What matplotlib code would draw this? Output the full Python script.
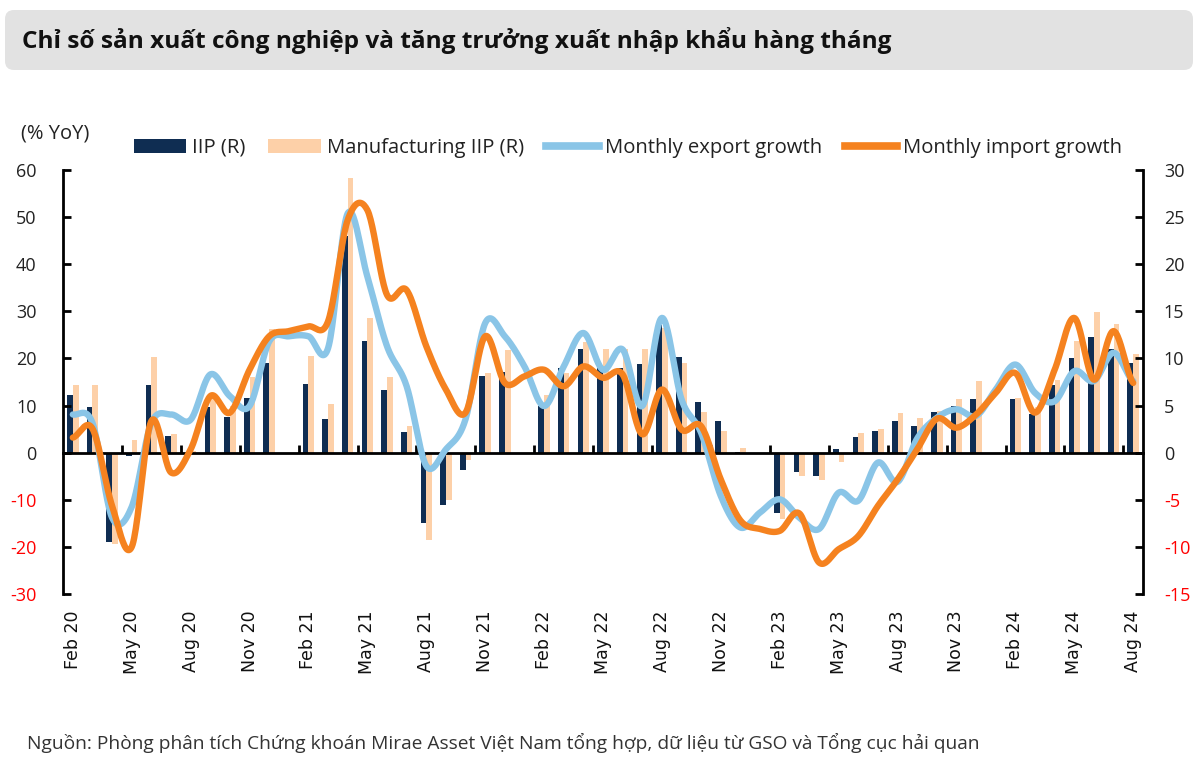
import numpy as np
import pandas as pd
import matplotlib
matplotlib.use("Agg")
import matplotlib.pyplot as plt
from matplotlib.patches import FancyBboxPatch, Patch
from matplotlib.lines import Line2D

plt.rcParams['font.family'] = ['Open Sans', 'DejaVu Sans']
plt.rcParams['axes.unicode_minus'] = False

# ---------------- data ----------------
months = pd.date_range('2020-02-01', periods=55, freq='MS')
month_labels = [d.strftime('%b %y') for d in months]

nan = np.nan
# IIP and manufacturing IIP (% YoY, right axis); January months not reported
iip = [6.1, 4.8, -9.5, -0.4, 7.2, 1.8, -0.3, 4.8, 3.8, 5.8, 9.5, nan,
       7.3, 3.6, 23.0, 11.8, 6.7, 2.2, -7.5, -5.6, -1.8, 8.1, 8.6, nan,
       4.9, 9.0, 11.0, 9.0, 9.0, 9.4, 13.5, 10.2, 5.4, 3.4, 0.1, nan,
       -6.4, -2.1, -2.5, 0.4, 1.7, 2.3, 3.4, 2.8, 4.3, 4.9, 5.7, nan,
       5.7, 4.1, 7.2, 10.0, 12.3, 11.0, 9.5]
mfg_iip = [7.2, 7.2, -9.7, 1.3, 10.2, 2.0, 0.2, 6.0, 5.0, 8.0, 13.1, nan,
           10.3, 5.2, 29.1, 14.3, 8.0, 2.8, -9.3, -5.0, -0.8, 8.5, 10.9, nan,
           6.1, 8.5, 11.7, 11.0, 11.0, 11.0, 13.2, 9.5, 4.3, 2.3, 0.5, nan,
           -7.0, -2.5, -2.9, -1.0, 2.1, 2.5, 4.2, 3.7, 4.4, 5.7, 7.6, nan,
           5.8, 4.8, 7.7, 11.8, 14.9, 13.7, 10.5]
# Monthly export / import growth (% YoY, left axis)
export_growth = [8.1, 6.3, -13.8, -11.5, 6.3, 8.1, 7.0, 16.6, 12.0, 9.9, 23.6, 24.7,
                 24.7, 22.2, 50.8, 37.4, 22.6, 14.1, -2.8, 0.7, 7.1, 27.5, 24.7, 18.3,
                 9.9, 18.3, 25.4, 17.6, 21.9, 9.9, 28.6, 11.3, 4.2, -9.2, -15.9, -12.7,
                 -9.9, -13.8, -16.2, -8.5, -10.2, -2.1, -6.2, 3.0, 7.4, 9.2, 7.8, 13.4,
                 18.7, 12.7, 10.9, 17.3, 15.2, 21.2, 15.2]
import_growth = [3.2, 5.1, -11.3, -20.0, 6.7, -4.2, 0.7, 12.0, 8.5, 17.6, 24.7, 25.8,
                 26.8, 27.9, 49.4, 51.5, 33.5, 34.5, 22.6, 13.4, 8.5, 24.7, 14.8, 16.2,
                 17.6, 14.1, 18.3, 15.9, 16.6, 3.9, 13.4, 4.9, 5.6, -5.7, -14.4, -16.2,
                 -16.6, -12.9, -23.3, -20.5, -17.7, -11.3, -5.7, 0.7, 7.2, 5.3, 8.1, 12.7,
                 16.9, 8.5, 17.6, 28.6, 15.5, 25.8, 14.8]

title = "Chỉ số sản xuất công nghiệp và tăng trưởng xuất nhập khẩu hàng tháng"
source = "Nguồn: Phòng phân tích Chứng khoán Mirae Asset Việt Nam tổng hợp, dữ liệu từ GSO và Tổng cục hải quan"
legend_labels = ["IIP (R)", "Manufacturing IIP (R)", "Monthly export growth", "Monthly import growth"]

NAVY = "#0f2d52"
PEACH = "#fdd0a8"
BLUE = "#8ac5e7"
ORANGE = "#f5821f"
RED = "#ff0000"


def smooth(y, n=24):
    """Catmull-Rom smoothing (like a spreadsheet 'smoothed line')."""
    y = np.asarray(y, float)
    p = np.concatenate([[y[0]], y, [y[-1]]])
    xs, ys = [], []
    t = np.linspace(0, 1, n, endpoint=False)
    for i in range(len(y) - 1):
        p0, p1, p2, p3 = p[i], p[i + 1], p[i + 2], p[i + 3]
        v = 0.5 * (2 * p1 + (-p0 + p2) * t + (2 * p0 - 5 * p1 + 4 * p2 - p3) * t ** 2
                   + (-p0 + 3 * p1 - 3 * p2 + p3) * t ** 3)
        xs.append(i + t)
        ys.append(v)
    xs.append([len(y) - 1])
    ys.append([y[-1]])
    return np.concatenate(xs), np.concatenate(ys)


W, H = 1200, 758
fig = plt.figure(figsize=(W / 100, H / 100), dpi=100)

# title box
box = FancyBboxPatch((5 / 100, (H - 70) / 100), 1188 / 100, 60 / 100,
                     boxstyle="round,pad=0,rounding_size=0.09",
                     transform=fig.dpi_scale_trans, facecolor="#e2e2e2", edgecolor="none")
fig.patches.append(box)
fig.text(22 / W, 1 - 41 / H, title, fontsize=17.6, fontweight='bold', va='center', ha='left',
         color="#111111")

ax = fig.add_axes([63 / W, 1 - 594 / H, 1080 / W, 424 / H])
axr = ax.twinx()
ax.set_zorder(axr.get_zorder() + 1)
ax.patch.set_visible(False)

x = np.arange(len(months))
bw = 0.29
axr.bar(x - bw / 2, iip, width=bw, color=NAVY)
axr.bar(x + bw / 2, mfg_iip, width=bw, color=PEACH)

xe, ye = smooth(export_growth)
xi, yi = smooth(import_growth)
ax.plot(xe, ye, color=BLUE, lw=4.6, solid_capstyle='round', zorder=3)
ax.plot(xi, yi, color=ORANGE, lw=4.6, solid_capstyle='round', zorder=4)

ax.set_xlim(-0.5, len(months) - 0.5)
ax.set_ylim(-30, 60)
axr.set_ylim(-15, 30)
ax.set_yticks(np.arange(-30, 61, 10))
axr.set_yticks(np.arange(-15, 31, 5))

for s in ['top', 'bottom', 'right']:
    ax.spines[s].set_visible(False)
for s in ['top', 'bottom', 'left']:
    axr.spines[s].set_visible(False)
ax.spines['left'].set_linewidth(2)
axr.spines['right'].set_linewidth(2)

ax.tick_params(axis='y', direction='in', length=6, width=2, labelsize=13, pad=19)
axr.tick_params(axis='y', direction='in', length=6, width=2, labelsize=13, pad=15)
for lab, v in zip(ax.get_yticklabels(), ax.get_yticks()):
    lab.set_color(RED if v < 0 else "#222222")
for lab, v in zip(axr.get_yticklabels(), axr.get_yticks()):
    lab.set_color(RED if v < 0 else "#222222")

ax.set_xticks(x[::3])
ax.set_xticklabels(month_labels[::3], rotation=90, fontsize=12.5, family='DejaVu Sans', color="#111111")
ax.tick_params(axis='x', length=0, pad=12)

# zero line with category-boundary ticks
sec = ax.secondary_xaxis(0, transform=ax.transData)
sec.set_xticks(x[3::3] - 0.5)
sec.tick_params(axis='x', direction='in', length=6, width=2, labelbottom=False)
sec.spines['bottom'].set_linewidth(2)

fig.text(21 / W, 1 - 133 / H, "(% YoY)", fontsize=14.5, va='center', ha='left', color="#222222")

handles = [Patch(facecolor=NAVY), Patch(facecolor=PEACH),
           Line2D([0], [0], color=BLUE, lw=5.5), Line2D([0], [0], color=ORANGE, lw=5.5)]
fig.legend(handles, legend_labels, ncol=4, loc='center', bbox_to_anchor=(628 / W, 1 - 148 / H),
           frameon=False, fontsize=14.6, handlelength=2.6, handleheight=0.75,
           columnspacing=1.1, handletextpad=0.3, labelcolor="#222222")

fig.text(27 / W, 1 - 743 / H, source, fontsize=13.8, va='center', ha='left', color="#333333")

fig.savefig("out.png", dpi=100)
